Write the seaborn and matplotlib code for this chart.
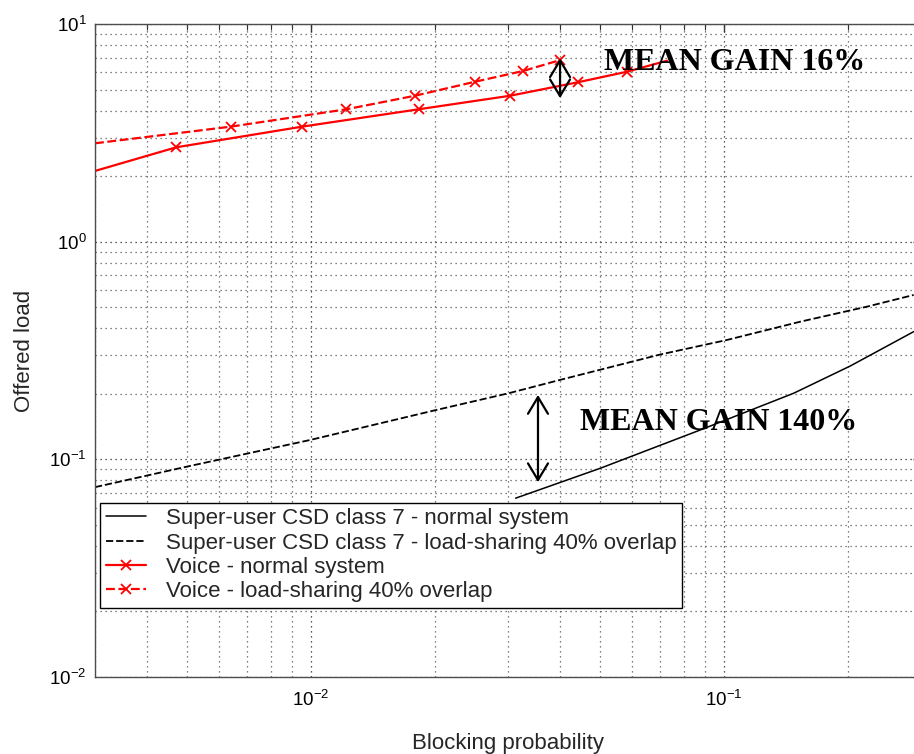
import matplotlib
matplotlib.use("Agg")
import matplotlib.pyplot as plt
import seaborn as sns
import numpy as np
import pandas as pd

# ---------------- data ----------------
csd_normal_x = [0.0313, 0.0502, 0.0877, 0.1475, 0.2023, 0.288]
csd_normal_y = [0.0663, 0.0910, 0.1365, 0.2012, 0.2685, 0.386]

csd_ls_x = [0.003, 0.00501, 0.00997, 0.0198, 0.0301, 0.0401, 0.0700, 0.1017, 0.1531, 0.2221, 0.288]
csd_ls_y = [0.0745, 0.0926, 0.1228, 0.1674, 0.2012, 0.2317, 0.3029, 0.3535, 0.429, 0.503, 0.569]

voice_normal_x = [0.003, 0.00472, 0.00952, 0.01823, 0.0304, 0.04424, 0.05828, 0.0728]
voice_normal_y = [2.113, 2.714, 3.376, 4.057, 4.684, 5.397, 6.037, 6.783]

voice_ls_x = [0.003, 0.0064, 0.01218, 0.01788, 0.0250, 0.03264, 0.04017]
voice_ls_y = [2.831, 3.376, 4.057, 4.684, 5.433, 6.083, 6.833]

labels = [
    "Super-user CSD class 7 - normal system",
    "Super-user CSD class 7 - load-sharing 40% overlap",
    "Voice - normal system",
    "Voice - load-sharing 40% overlap",
]
gain_texts = ["MEAN GAIN 16%", "MEAN GAIN 140%"]

# ---------------- style ----------------
sns.set_style("white")
plt.rcParams["font.family"] = ["Liberation Sans", "DejaVu Sans"]
plt.rcParams["mathtext.fontset"] = "custom"
plt.rcParams["mathtext.rm"] = "Liberation Sans"
plt.rcParams["mathtext.it"] = "Liberation Sans"
plt.rcParams["mathtext.bf"] = "Liberation Sans"
plt.rcParams["axes.unicode_minus"] = False

W, H = 914, 754
fig = plt.figure(figsize=(W / 100, H / 100), dpi=100)
ax = fig.add_axes([95 / W, (H - 677) / H, 826 / W, 653 / H])

sns.lineplot(x=csd_normal_x, y=csd_normal_y, ax=ax, color="black", lw=1.1,
             sort=False, estimator=None, label=labels[0])
sns.lineplot(x=csd_ls_x, y=csd_ls_y, ax=ax, color="black", lw=1.3,
             sort=False, estimator=None, label=labels[1])
ax.lines[-1].set_dashes([4, 1.6])
sns.lineplot(x=voice_normal_x, y=voice_normal_y, ax=ax, color="red", lw=1.6,
             sort=False, estimator=None, label=labels[2], marker="x",
             markersize=7.5, markeredgewidth=1.3, markeredgecolor="red",
             markevery=slice(1, -1))
sns.lineplot(x=voice_ls_x, y=voice_ls_y, ax=ax, color="red", lw=1.6,
             sort=False, estimator=None, label=labels[3], marker="x",
             markersize=7.5, markeredgewidth=1.3, markeredgecolor="red",
             markevery=slice(1, None))
ax.lines[-1].set_dashes([4, 1.6])

ax.set_xscale("log")
ax.set_yscale("log")
ax.set_xlim(0.003, 0.3)
ax.set_ylim(0.01, 10)

ax.grid(True, which="major", linestyle=(0, (1, 3)), color="0.15", lw=0.9)
ax.grid(True, which="minor", linestyle=(0, (1, 3)), color="0.35", lw=0.9)
ax.set_axisbelow(True)

ax.tick_params(which="both", direction="in", top=True, right=True,
               labelsize=13.5, colors="0.2", labelcolor="black")
ax.tick_params(which="major", length=6, width=1)
ax.tick_params(which="minor", length=4, width=0.8)
ax.tick_params(axis="x", pad=9)
ax.tick_params(axis="y", pad=6)
for s in ax.spines.values():
    s.set_color("0.3")
    s.set_linewidth(1.0)

ax.set_xlabel("Blocking probability", fontsize=16, labelpad=17)
ax.set_ylabel("Offered load", fontsize=16, labelpad=10)

# arrows
arrow_kw = dict(arrowstyle="<->,head_length=0.6,head_width=0.36",
                color="black", lw=1.6, shrinkA=0, shrinkB=0, mutation_scale=20)
ax.annotate("", xy=(0.0401, 6.96), xytext=(0.0401, 4.56), arrowprops=arrow_kw)
ax.annotate("", xy=(0.03546, 0.1976), xytext=(0.03546, 0.0785), arrowprops=arrow_kw)

ax.text(0.616, 0.9296, gain_texts[0], transform=ax.transAxes, fontsize=23,
        fontweight="bold", family="Liberation Serif", va="baseline", ha="left",
        color="black", zorder=5)
ax.text(0.587, 0.378, gain_texts[1], transform=ax.transAxes, fontsize=23,
        fontweight="bold", family="Liberation Serif", va="baseline", ha="left",
        color="black", zorder=5)

handles, labs = ax.get_legend_handles_labels()
leg = ax.legend(handles, labs, loc="upper left", bbox_to_anchor=(0.006, 0.267),
                borderaxespad=0, fontsize=16, handlelength=1.8, handletextpad=0.9,
                labelspacing=0.15, borderpad=0.25, fancybox=False, framealpha=1,
                edgecolor="black")
leg.get_frame().set_linewidth(1.0)

fig.savefig("out.png", dpi=100)
